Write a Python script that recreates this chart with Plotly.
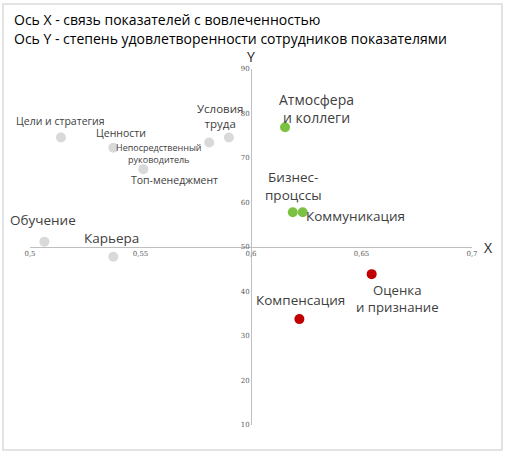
import plotly.graph_objects as go

# data: x - связь с вовлеченностью, y - удовлетворенность
gray_labels = ['Цели и стратегия', 'Ценности', 'Непосредственный<br>руководитель',
               'Условия<br>труда', 'Топ-менеджмент', 'Обучение', 'Карьера']
gray_x = [0.514, 0.5377, 0.5811, 0.590, 0.5513, 0.5065, 0.5377]
gray_y = [74.6, 72.3, 73.5, 74.6, 67.5, 51.2, 47.8]

green_labels = ['Атмосфера<br>и коллеги', 'Бизнес-<br>процссы', 'Коммуникация']
green_x = [0.6154, 0.6189, 0.6234]
green_y = [76.9, 57.8, 57.8]

red_labels = ['Оценка<br>и признание', 'Компенсация']
red_x = [0.6546, 0.6219]
red_y = [43.9, 33.8]

x_ticks = [0.5, 0.55, 0.6, 0.65, 0.7]
x_ticktext = ['0,5', '0,55', '0,6', '0,65', '0,7']
y_ticks = [10, 20, 30, 40, 50, 60, 70, 80, 90]

# label placement: (xanchor, xshift, yshift, font size)
gray_pos = [('center', 0, 17, 10.5), ('center', 8, 15, 10.5), ('right', -5, -11, 9),
            ('center', -8.5, 22, 11.5), ('center', 31, -11, 10.5),
            ('center', -1, 22, 13.5), ('center', -2, 19, 13.5)]
green_pos = [('center', 31, 19, 14), ('center', 1, 26, 13.5), ('left', 1, -4, 13.5)]
red_pos = [('center', 26, -24, 13.2), ('center', 1, 19, 13.5)]

TEXT_COLOR = '#404040'
FONT = 'Open Sans'

fig = go.Figure()
groups = [
    (gray_x, gray_y, gray_labels, gray_pos, '#d9d9d9'),
    (green_x, green_y, green_labels, green_pos, '#7cc242'),
    (red_x, red_y, red_labels, red_pos, '#c00000'),
]
for xs, ys, labels, pos, color in groups:
    fig.add_trace(go.Scatter(
        x=xs, y=ys, mode='markers',
        marker=dict(color=color, size=10),
        hovertext=[l.replace('<br>', ' ') for l in labels],
        hoverinfo='text',
        cliponaxis=False,
        showlegend=False
    ))
    for x, y, label, (anchor, dx, dy, size) in zip(xs, ys, labels, pos):
        fig.add_annotation(
            x=x, y=y, text=label, showarrow=False,
            xanchor=anchor, yanchor='middle', xshift=dx, yshift=dy,
            font=dict(size=size, family=FONT, color=TEXT_COLOR)
        )

# axis letters
fig.add_annotation(x=0.6, y=90, text='Y', showarrow=False, yshift=1, yanchor='bottom',
                   font=dict(size=14, family=FONT, color='#262626'))
fig.add_annotation(x=0.7, y=50, text='X', showarrow=False, xshift=10, xanchor='left',
                   font=dict(size=14, family=FONT, color='#262626'))

# header lines
fig.add_annotation(xref='paper', yref='paper', x=-0.0407, y=1.1404,
                   text='Ось X - связь показателей с вовлеченностью',
                   showarrow=False, xanchor='left', yanchor='middle',
                   font=dict(size=14, family=FONT, color='#000000'))
fig.add_annotation(xref='paper', yref='paper', x=-0.0407, y=1.0843,
                   text='Ось Y - степень удовлетворенности сотрудников показателями',
                   showarrow=False, xanchor='left', yanchor='middle',
                   font=dict(size=14, family=FONT, color='#000000'))

# light frame around picture
fig.add_shape(type='rect', xref='paper', yref='paper',
              x0=-0.0611, x1=1.0679, y0=-0.0702, y1=1.1826,
              line=dict(color='#e3e3e3', width=2))

fig.update_xaxes(range=[0.5, 0.7], tickvals=x_ticks, ticktext=x_ticktext,
                 showgrid=False, zeroline=False, showline=True, linecolor='#bfbfbf',
                 anchor='free', position=0.5, ticks='',
                 tickfont=dict(size=7, family='DejaVu Serif', color='#595959'))
fig.update_yaxes(range=[10, 90], tickvals=y_ticks,
                 showgrid=False, zeroline=False, showline=True, linecolor='#bfbfbf',
                 anchor='free', position=0.5, ticks='',
                 tickfont=dict(size=7, family='DejaVu Serif', color='#595959'))

fig.update_layout(
    width=508, height=464,
    margin=dict(l=30, r=36, t=69, b=39),
    plot_bgcolor='white', paper_bgcolor='white',
    font=dict(family=FONT)
)
# drop the page's default body margin so the chart sits at the window corner
fig.write_html("out.html", config={'displayModeBar': False},
               post_script="document.body.style.margin='0';")
